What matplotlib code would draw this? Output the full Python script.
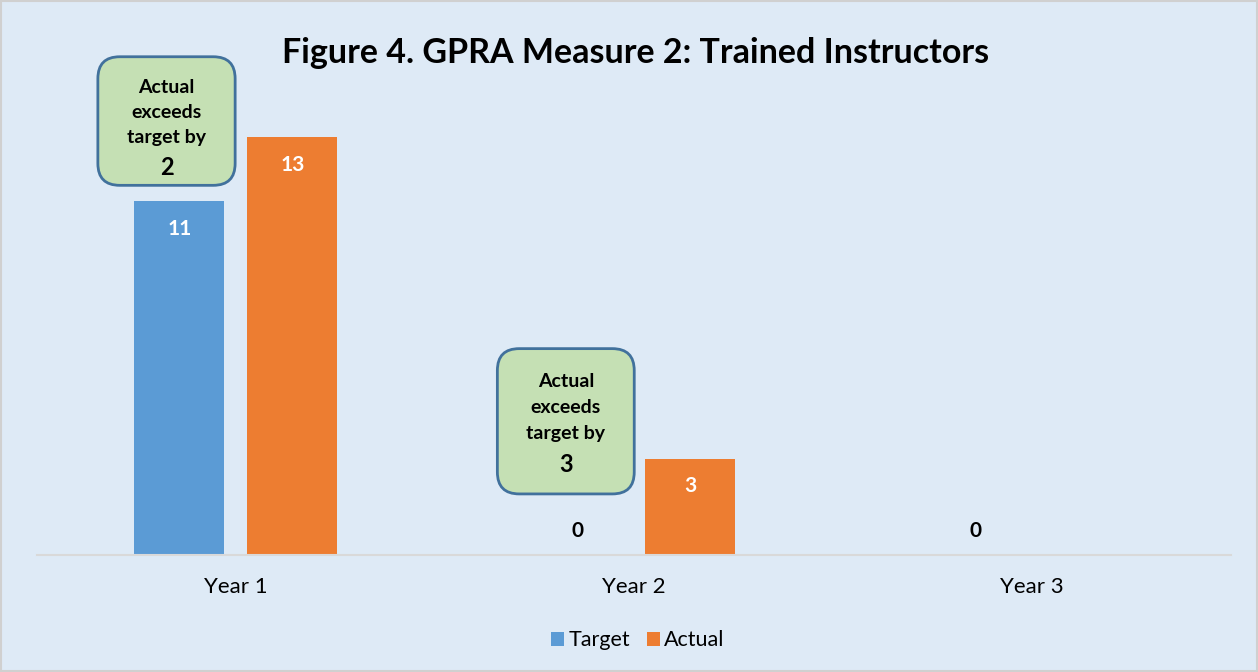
import numpy as np
import matplotlib.pyplot as plt
from matplotlib.patches import Rectangle, FancyBboxPatch

plt.rcParams['font.family'] = ['Lato', 'DejaVu Sans']

years = ['Year 1', 'Year 2', 'Year 3']
target = [11, 0, 0]
actual = [13, 3, np.nan]
diffs = [2, 3]

blue = '#5B9BD5'
orange = '#ED7D31'
bg = '#DEEAF6'

fig = plt.figure(figsize=(12.58, 6.72), dpi=100, facecolor=bg)
ax = fig.add_axes([0.0294, 0.1741, 0.9489, 0.6697])
ax.set_facecolor(bg)

x = np.arange(len(years))
w = 0.226
off = 0.142
b1 = ax.bar(x - off, target, w, color=blue, label='Target')
b2 = ax.bar(x + off, actual, w, color=orange, label='Actual')

ax.set_xlim(-0.5, 2.5)
ax.set_ylim(0, 14)
ax.set_yticks([])
ax.set_xticks(x)
ax.set_xticklabels(years, fontsize=16)
ax.tick_params(axis='x', length=0, pad=16)
for s in ['top', 'left', 'right']:
    ax.spines[s].set_visible(False)
ax.spines['bottom'].set_color('#D9D9D9')
ax.spines['bottom'].set_linewidth(1.5)

# value labels
for xs, vals in [(x - off, target), (x + off, actual)]:
    for xi, v in zip(xs, vals):
        if np.isnan(v):
            continue
        if v > 0:
            ax.annotate(f'{v:g}', (xi, v), xytext=(0, -20), textcoords='offset points',
                        ha='center', va='center', color='white', fontsize=15, fontweight='bold')
        else:
            ax.annotate(f'{v:g}', (xi, v), xytext=(0, 17), textcoords='offset points',
                        ha='center', va='center', color='black', fontsize=15, fontweight='bold')

# callout boxes (x0, y-bottom, y-top relative to each category)
box_x = [(-0.347, -0.002), (-0.343, 0.001)]
box_y = [(11.5, 15.5), (1.9, 6.42)]
text_start = [-22, -24]
text_step = [18.2, 18.7]
aspect = (14 / (0.6697 * 672)) / (3 / (0.9489 * 1258))
for i, d in enumerate(diffs):
    x0, x1 = x[i] + box_x[i][0], x[i] + box_x[i][1]
    y0, y1 = box_y[i]
    ax.add_patch(FancyBboxPatch((x0, y0), x1 - x0, y1 - y0,
                                boxstyle='round,pad=0,rounding_size=0.055',
                                mutation_aspect=aspect, fc='#C5E0B4', ec='#41719C', lw=2,
                                clip_on=False, zorder=3))
    cx = (x0 + x1) / 2
    yt = y1
    for j, line in enumerate(['Actual', 'exceeds', 'target by']):
        ax.annotate(line, (cx, yt), xytext=(0, text_start[i] - j * text_step[i]),
                    textcoords='offset points', ha='center', va='center',
                    fontsize=14, fontweight='bold', zorder=4, annotation_clip=False)
    ax.annotate(str(d), (cx, yt), xytext=(0, text_start[i] - 3 * text_step[i] - 3.5),
                textcoords='offset points', ha='center', va='center',
                fontsize=17, fontweight='bold', zorder=4, annotation_clip=False)

fig.suptitle('Figure 4. GPRA Measure 2: Trained Instructors', x=0.505, y=0.945,
             fontsize=24.5, fontweight='bold')

fig.legend(handles=[b1, b2], loc='center', bbox_to_anchor=(0.507, 0.047), ncol=2,
           frameon=False, fontsize=15.5, handlelength=0.6, handleheight=0.6,
           handletextpad=0.2, columnspacing=0.8)

fig.add_artist(Rectangle((0.001, 0.001), 0.998, 0.998, transform=fig.transFigure,
                         fill=False, ec='#D0D0D0', lw=1.5))

fig.savefig('out.png', dpi=100, facecolor=bg)
